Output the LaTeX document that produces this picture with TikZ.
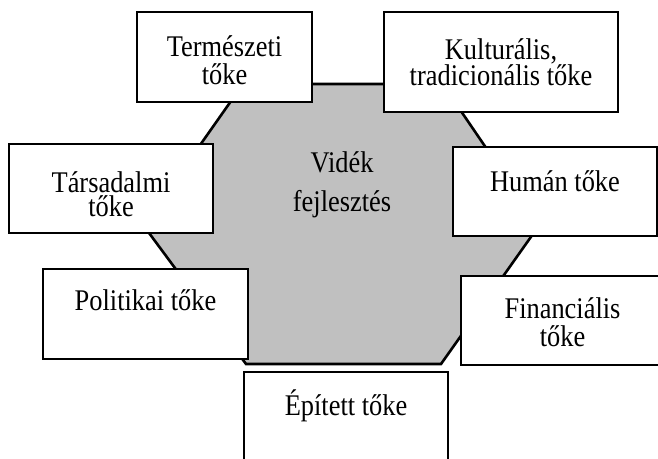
\documentclass[tikz,border=0pt]{standalone}
\usepackage{fontspec}
\newfontfamily\boxfont[FakeStretch=0.88]{Liberation Serif}
\definecolor{hexgray}{RGB}{192,192,192}
\tikzset{
  hexa/.style={draw=black,fill=hexgray,line width=2.6pt,line join=miter},
  box/.style={draw=black,fill=white,line width=1.6pt,inner sep=0pt},
  boxtext/.style={anchor=base,align=center,inner sep=0pt,
    font=\boxfont\fontsize{30}{28}\selectfont}
}
\begin{document}
\begin{tikzpicture}[x=1pt,y=-1pt]
    \useasboundingbox (0,0) rectangle (658,458);
    \clip (0,0) rectangle (658,458);
    \draw[hexa] (243,84) -- (442.5,84) -- (539,225.5) -- (441,364) -- (246,364) -- (143.5,225.5) -- cycle;
    \node[boxtext] (videk) at (342,211) {Vidék\\[10.3pt]fejlesztés};

    \node[box,minimum width=175pt,minimum height=90pt] (termeszeti) at (224.5,57) {};
    \node[boxtext] (termeszetiT) at ([yshift=-73pt]termeszeti.north) {Természeti\\tőke};

    \node[box,minimum width=234pt,minimum height=100pt] (kulturalis) at (501,62) {};
    \node[boxtext] (kulturalisT) at ([yshift=-74pt]kulturalis.north) {Kulturális,\\[-2pt]tradicionális tőke};

    \node[box,minimum width=204pt,minimum height=89pt] (tarsadalmi) at (111,188.5) {};
    \node[boxtext] (tarsadalmiT) at ([yshift=-73pt]tarsadalmi.north) {Társadalmi\\[-4pt]tőke};

    \node[box,minimum width=204pt,minimum height=89pt] (human) at (555,191.5) {};
    \node[boxtext] (humanT) at ([yshift=-45pt]human.north) {Humán tőke};

    \node[box,minimum width=205pt,minimum height=90pt] (politikai) at (145.5,314) {};
    \node[boxtext] (politikaiT) at ([yshift=-42.5pt]politikai.north) {Politikai tőke};

    \node[box,minimum width=203pt,minimum height=89pt] (financialis) at (562.5,320.5) {};
    \node[boxtext] (financialisT) at ([yshift=-71pt]financialis.north) {Financiális\\tőke};

    \node[box,minimum width=204pt,minimum height=90pt] (epitett) at (346,417) {};
    \node[boxtext] (epitettT) at ([yshift=-44pt]epitett.north) {Épített tőke};
\end{tikzpicture}
\end{document}
